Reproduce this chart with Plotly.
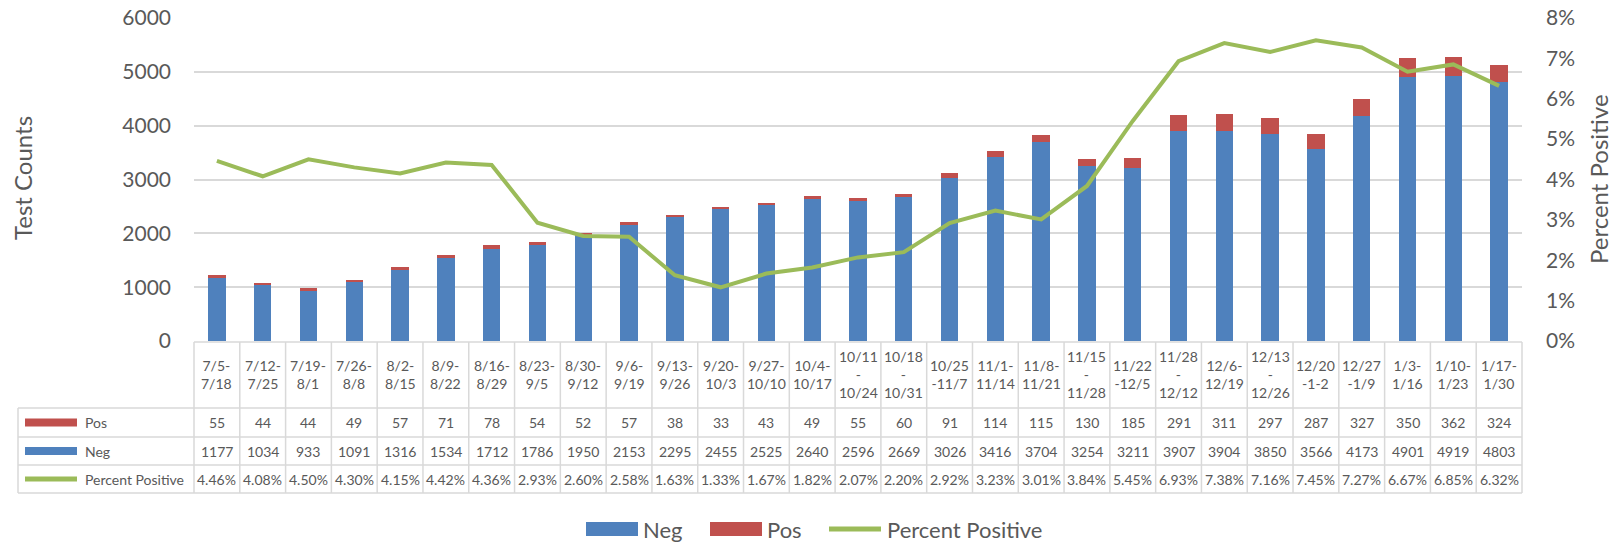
import plotly.graph_objects as go

weeks = ["7/5-7/18", "7/12-7/25", "7/19-8/1", "7/26-8/8", "8/2-8/15", "8/9-8/22",
         "8/16-8/29", "8/23-9/5", "8/30-9/12", "9/6-9/19", "9/13-9/26", "9/20-10/3",
         "9/27-10/10", "10/4-10/17", "10/11-10/24", "10/18-10/31", "10/25-11/7",
         "11/1-11/14", "11/8-11/21", "11/15-11/28", "11/22-12/5", "11/28-12/12",
         "12/6-12/19", "12/13-12/26", "12/20-1-2", "12/27-1/9", "1/3-1/16",
         "1/10-1/23", "1/17-1/30"]
week_labels = ["7/5-<br>7/18", "7/12-<br>7/25", "7/19-<br>8/1", "7/26-<br>8/8", "8/2-<br>8/15",
               "8/9-<br>8/22", "8/16-<br>8/29", "8/23-<br>9/5", "8/30-<br>9/12", "9/6-<br>9/19",
               "9/13-<br>9/26", "9/20-<br>10/3", "9/27-<br>10/10", "10/4-<br>10/17",
               "10/11<br>-<br>10/24", "10/18<br>-<br>10/31", "10/25<br>-11/7", "11/1-<br>11/14",
               "11/8-<br>11/21", "11/15<br>-<br>11/28", "11/22<br>-12/5", "11/28<br>-<br>12/12",
               "12/6-<br>12/19", "12/13<br>-<br>12/26", "12/20<br>-1-2", "12/27<br>-1/9",
               "1/3-<br>1/16", "1/10-<br>1/23", "1/17-<br>1/30"]
pos = [55, 44, 44, 49, 57, 71, 78, 54, 52, 57, 38, 33, 43, 49, 55, 60, 91, 114, 115,
       130, 185, 291, 311, 297, 287, 327, 350, 362, 324]
neg = [1177, 1034, 933, 1091, 1316, 1534, 1712, 1786, 1950, 2153, 2295, 2455, 2525, 2640,
       2596, 2669, 3026, 3416, 3704, 3254, 3211, 3907, 3904, 3850, 3566, 4173, 4901, 4919,
       4803]
pct = [4.46, 4.08, 4.50, 4.30, 4.15, 4.42, 4.36, 2.93, 2.60, 2.58, 1.63, 1.33, 1.67, 1.82,
       2.07, 2.20, 2.92, 3.23, 3.01, 3.84, 5.45, 6.93, 7.38, 7.16, 7.45, 7.27, 6.67, 6.85,
       6.32]

BLUE = "#4F81BD"
RED = "#C0504D"
GREEN = "#9BBB59"
TXT = "#595959"
GRID = "#D9D9D9"
FONT = "Lato, Calibri, Carlito, sans-serif"

W, H = 1621, 542
L, R, T, B = 194, 1522, 18, 341
pw, ph = R - L, B - T


def px(X):
    return (X - L) / pw


def py(Y):
    return (B - Y) / ph


fig = go.Figure()
fig.add_trace(go.Bar(x=weeks, y=neg, name="Neg", marker=dict(color=BLUE, line=dict(width=0)),
                     yaxis="y"))
fig.add_trace(go.Bar(x=weeks, y=pos, name="Pos", marker=dict(color=RED, line=dict(width=0)),
                     yaxis="y"))
fig.add_trace(go.Scatter(x=weeks, y=[v / 100 for v in pct], name="Percent Positive",
                         mode="lines", line=dict(color=GREEN, width=4), yaxis="y2"))

n = len(weeks)
shapes = []
annotations = []

# table grid
row_y = [342, 408, 437, 465, 493]
for i in range(n + 1):
    shapes.append(dict(type="line", xref="paper", yref="paper", x0=i / n, x1=i / n,
                       y0=py(row_y[0]), y1=py(row_y[-1]), line=dict(color=GRID, width=1.5)))
shapes.append(dict(type="line", xref="paper", yref="paper", x0=px(18), x1=px(18),
                   y0=py(row_y[1]), y1=py(row_y[-1]), line=dict(color=GRID, width=1.5)))
shapes.append(dict(type="line", xref="paper", yref="paper", x0=0, x1=1,
                   y0=py(row_y[0]), y1=py(row_y[0]), line=dict(color=GRID, width=1.5)))
for yy in row_y[1:]:
    shapes.append(dict(type="line", xref="paper", yref="paper", x0=px(18), x1=1,
                       y0=py(yy), y1=py(yy), line=dict(color=GRID, width=1.5)))

cell_font = dict(family=FONT, size=14, color=TXT)
row_centers = [(row_y[k] + row_y[k + 1]) / 2 for k in range(4)]
for i in range(n):
    annotations.append(dict(x=weeks[i], xref="x", y=py(row_centers[0]), yref="paper",
                            text=week_labels[i], showarrow=False, font=cell_font,
                            xanchor="center", yanchor="middle"))
    annotations.append(dict(x=weeks[i], xref="x", y=py(row_centers[1]), yref="paper",
                            text=str(pos[i]), showarrow=False, font=cell_font,
                            xanchor="center", yanchor="middle"))
    annotations.append(dict(x=weeks[i], xref="x", y=py(row_centers[2]), yref="paper",
                            text=str(neg[i]), showarrow=False, font=cell_font,
                            xanchor="center", yanchor="middle"))
    annotations.append(dict(x=weeks[i], xref="x", y=py(row_centers[3]), yref="paper",
                            text=f"{pct[i]:.2f}%", showarrow=False, font=cell_font,
                            xanchor="center", yanchor="middle"))

# table legend keys
for (label, kind, color), yc in zip([("Pos", "rect", RED), ("Neg", "rect", BLUE),
                                     ("Percent Positive", "line", GREEN)], row_centers[1:]):
    if kind == "rect":
        shapes.append(dict(type="rect", xref="paper", yref="paper", x0=px(25), x1=px(77),
                           y0=py(yc + 4), y1=py(yc - 4), fillcolor=color, line=dict(width=0)))
    else:
        shapes.append(dict(type="line", xref="paper", yref="paper", x0=px(25), x1=px(77),
                           y0=py(yc), y1=py(yc), line=dict(color=color, width=5)))
    annotations.append(dict(x=px(83), xref="paper", y=py(yc), yref="paper", text=label,
                            showarrow=False, font=cell_font, xanchor="left", yanchor="middle"))

# bottom legend
leg_y = 529
leg_font = dict(family=FONT, size=22, color=TXT)
for label, kind, color, x0, x1, tx in [("Neg", "rect", BLUE, 586, 638, 641),
                                        ("Pos", "rect", RED, 710, 762, 765),
                                        ("Percent Positive", "line", GREEN, 827, 883, 885)]:
    if kind == "rect":
        shapes.append(dict(type="rect", xref="paper", yref="paper", x0=px(x0), x1=px(x1),
                           y0=py(leg_y + 7), y1=py(leg_y - 7), fillcolor=color,
                           line=dict(width=0)))
    else:
        shapes.append(dict(type="line", xref="paper", yref="paper", x0=px(x0 + 2), x1=px(x1 - 2),
                           y0=py(leg_y), y1=py(leg_y), line=dict(color=color, width=5)))
    annotations.append(dict(x=px(tx), xref="paper", y=py(leg_y), yref="paper", text=label,
                            showarrow=False, font=leg_font, xanchor="left", yanchor="middle"))

# axis titles
annotations.append(dict(x=px(23), xref="paper", y=py(178), yref="paper", text="Test Counts",
                        textangle=-90, showarrow=False, xanchor="center", yanchor="middle",
                        font=dict(family=FONT, size=24, color=TXT)))
annotations.append(dict(x=px(1598), xref="paper", y=py(179), yref="paper",
                        text="Percent Positive", textangle=-90, showarrow=False,
                        xanchor="center", yanchor="middle",
                        font=dict(family=FONT, size=24, color=TXT)))

fig.update_layout(
    width=W, height=H,
    margin=dict(l=L, r=W - R, t=T, b=H - B, pad=0, autoexpand=False),
    paper_bgcolor="white", plot_bgcolor="white",
    barmode="stack", bargap=0.62,
    showlegend=False,
    font=dict(family=FONT, color=TXT),
    xaxis=dict(type="category", range=[-0.5, n - 0.5], showticklabels=False, showgrid=False,
               zeroline=False, showline=False, ticks="", automargin=False),
    yaxis=dict(range=[0, 6000], dtick=1000, showgrid=True, gridcolor=GRID, gridwidth=1.5,
               zeroline=False, showline=False, ticks="", ticklabelstandoff=22,
               automargin=False, tickfont=dict(family=FONT, size=21, color=TXT)),
    yaxis2=dict(range=[0, 0.08], dtick=0.01, tickformat=".0%", overlaying="y", side="right",
                showgrid=False, zeroline=False, showline=False, ticks="", automargin=False,
                ticklabelstandoff=23, tickfont=dict(family=FONT, size=21, color=TXT)),
    shapes=shapes,
    annotations=annotations,
)

fig.write_html("out.html", config={"displayModeBar": False},
               post_script="document.body.style.margin='0';")
